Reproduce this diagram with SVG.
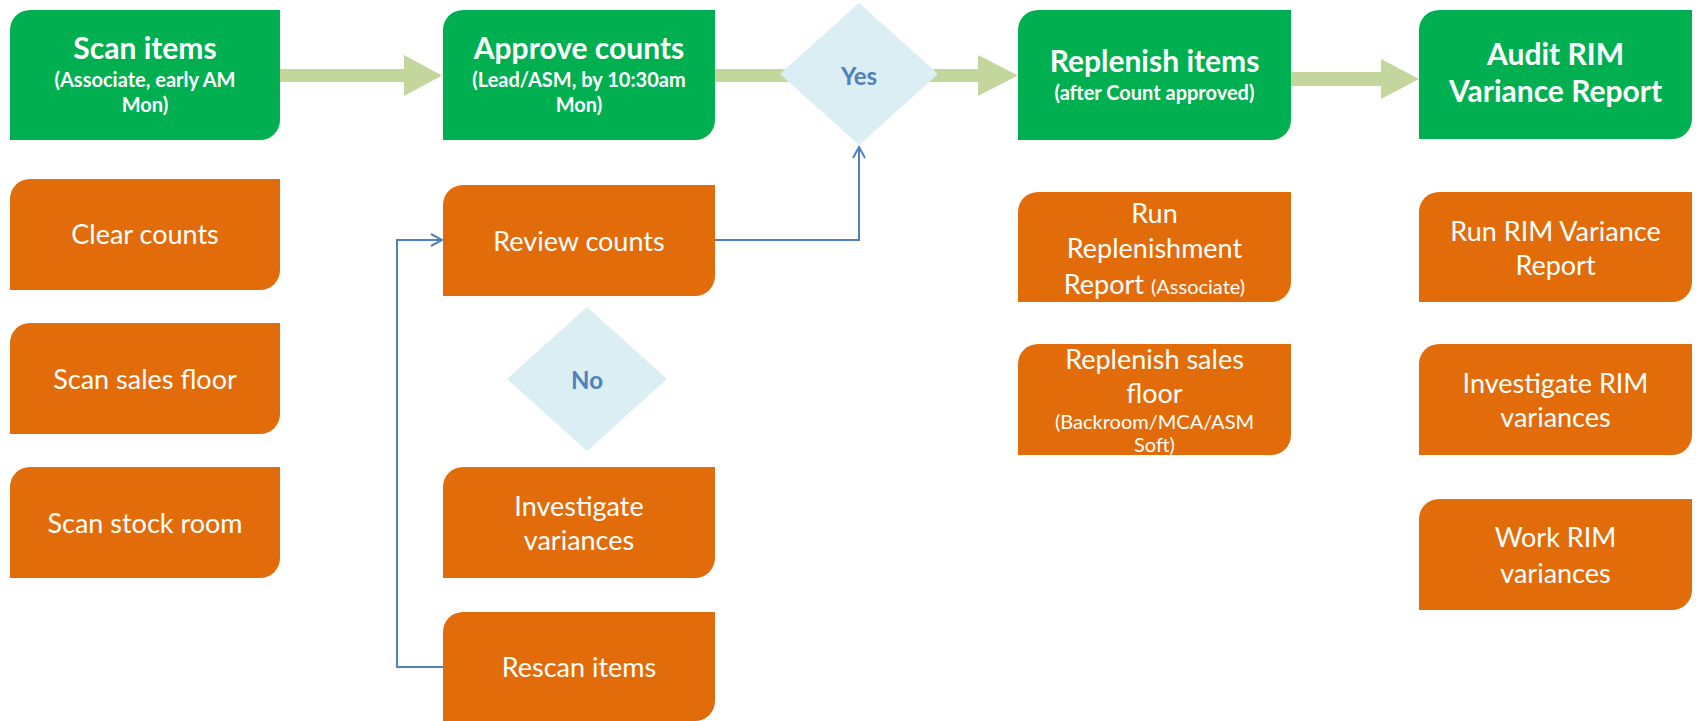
<svg xmlns="http://www.w3.org/2000/svg" width="1698" height="721" viewBox="0 0 1698 721">
<defs>
<style>
.g{fill:#00B050}
.o{fill:#E36C0A}
.d{fill:#DAEEF3}
.arr{fill:#C3D69B}
.t{font-family:Lato,"Liberation Sans",sans-serif;fill:#fff;text-anchor:middle}
.tb{font-weight:bold;font-size:30px}
.ts{font-weight:bold;font-size:20px}
.tr{font-size:27px}
.tsm{font-size:20px}
.lbl{font-family:Lato,"Liberation Sans",sans-serif;fill:#4F81BD;font-weight:bold;font-size:24px;text-anchor:middle}
.ln{fill:none;stroke:#4F81BD;stroke-width:2}
</style>
<marker id="open" markerWidth="14" markerHeight="14" refX="12" refY="7" orient="auto" markerUnits="userSpaceOnUse">
<path d="M1,1 L12,7 L1,13" fill="none" stroke="#4F81BD" stroke-width="2"/>
</marker>
</defs>
<rect width="1698" height="721" fill="#fff"/>
<g id="connectors">
<polygon class="arr" points="280,69 404,69 404,55 442,75.5 404,96 404,82 280,82"/>
<polygon class="arr" points="715,69 978,69 978,55 1018,75.5 978,96 978,82 715,82"/>
<polygon class="arr" points="1291,72 1381,72 1381,59 1419,79 1381,99 1381,86 1291,86"/>
<polyline class="ln" points="443,667 397,667 397,240 442,240" marker-end="url(#open)"/>
<polyline class="ln" points="715,240 859,240 859,147" marker-end="url(#open)"/>
</g>
<g id="scan-items"><path class="g" d="M30,10 H280 V120 A20,20 0 0 1 260,140 H10 V30 A20,20 0 0 1 30,10 Z"/>
<text class="t tb" x="145" y="59">Scan items</text>
<text class="t ts" x="145" y="87">(Associate, early AM</text>
<text class="t ts" x="145" y="112">Mon)</text></g>
<g id="clear-counts"><path class="o" d="M30,179 H280 V270 A20,20 0 0 1 260,290 H10 V199 A20,20 0 0 1 30,179 Z"/>
<text class="t tr" x="145" y="244">Clear counts</text></g>
<g id="scan-sales-floor"><path class="o" d="M30,323 H280 V414 A20,20 0 0 1 260,434 H10 V343 A20,20 0 0 1 30,323 Z"/>
<text class="t tr" x="145" y="389">Scan sales floor</text></g>
<g id="scan-stock-room"><path class="o" d="M30,467 H280 V558 A20,20 0 0 1 260,578 H10 V487 A20,20 0 0 1 30,467 Z"/>
<text class="t tr" x="145" y="533">Scan stock room</text></g>
<g id="approve-counts"><path class="g" d="M463,10 H715 V120 A20,20 0 0 1 695,140 H443 V30 A20,20 0 0 1 463,10 Z"/>
<text class="t tb" x="579" y="59">Approve counts</text>
<text class="t ts" x="579" y="87">(Lead/ASM, by 10:30am</text>
<text class="t ts" x="579" y="112">Mon)</text></g>
<g id="yes"><polygon class="d" points="859,3 938,74 859,145 780,74"/>
<text class="lbl" x="859" y="85">Yes</text></g>
<g id="review-counts"><path class="o" d="M463,185 H715 V276 A20,20 0 0 1 695,296 H443 V205 A20,20 0 0 1 463,185 Z"/>
<text class="t tr" x="579" y="251">Review counts</text></g>
<g id="no"><polygon class="d" points="587,307 667,379 587,451 507,379"/>
<text class="lbl" x="587" y="389">No</text></g>
<g id="investigate-variances"><path class="o" d="M463,467 H715 V558 A20,20 0 0 1 695,578 H443 V487 A20,20 0 0 1 463,467 Z"/>
<text class="t tr" x="579" y="516">Investigate</text>
<text class="t tr" x="579" y="550">variances</text></g>
<g id="rescan-items"><path class="o" d="M463,612 H715 V701 A20,20 0 0 1 695,721 H443 V632 A20,20 0 0 1 463,612 Z"/>
<text class="t tr" x="579" y="677">Rescan items</text></g>
<g id="replenish-items"><path class="g" d="M1038,10 H1291 V120 A20,20 0 0 1 1271,140 H1018 V30 A20,20 0 0 1 1038,10 Z"/>
<text class="t tb" x="1154.5" y="72">Replenish items</text>
<text class="t ts" x="1154.5" y="100">(after Count approved)</text></g>
<g id="run-replenishment"><path class="o" d="M1038,192 H1291 V282 A20,20 0 0 1 1271,302 H1018 V212 A20,20 0 0 1 1038,192 Z"/>
<text class="t tr" x="1154.5" y="223">Run</text>
<text class="t tr" x="1154.5" y="258">Replenishment</text>
<text class="t tr" x="1154.5" y="294">Report <tspan class="tsm">(Associate)</tspan></text></g>
<g id="replenish-sales-floor"><path class="o" d="M1038,344 H1291 V435 A20,20 0 0 1 1271,455 H1018 V364 A20,20 0 0 1 1038,344 Z"/>
<text class="t tr" x="1154.5" y="369">Replenish sales</text>
<text class="t tr" x="1154.5" y="403">floor</text>
<text class="t tsm" x="1154.5" y="429">(Backroom/MCA/ASM</text>
<text class="t tsm" x="1154.5" y="452">Soft)</text></g>
<g id="audit-rim"><path class="g" d="M1439,10 H1692 V119 A20,20 0 0 1 1672,139 H1419 V30 A20,20 0 0 1 1439,10 Z"/>
<text class="t tb" x="1555.5" y="65">Audit RIM</text>
<text class="t tb" x="1555.5" y="102">Variance Report</text></g>
<g id="run-rim-report"><path class="o" d="M1439,192 H1692 V282 A20,20 0 0 1 1672,302 H1419 V212 A20,20 0 0 1 1439,192 Z"/>
<text class="t tr" x="1555.5" y="241">Run RIM Variance</text>
<text class="t tr" x="1555.5" y="275">Report</text></g>
<g id="investigate-rim"><path class="o" d="M1439,344 H1692 V435 A20,20 0 0 1 1672,455 H1419 V364 A20,20 0 0 1 1439,344 Z"/>
<text class="t tr" x="1555.5" y="393">Investigate RIM</text>
<text class="t tr" x="1555.5" y="427">variances</text></g>
<g id="work-rim"><path class="o" d="M1439,499 H1692 V590 A20,20 0 0 1 1672,610 H1419 V519 A20,20 0 0 1 1439,499 Z"/>
<text class="t tr" x="1555.5" y="547">Work RIM</text>
<text class="t tr" x="1555.5" y="583">variances</text></g>
</svg>
